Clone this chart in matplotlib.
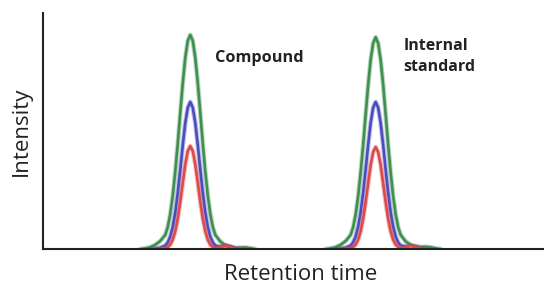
import numpy as np
import matplotlib
matplotlib.use("Agg")
from matplotlib import pyplot as plt

####################################################

# Peak data (time in arbitrary units, intensity 0-100)

compound_rt = 2.94
standard_rt = 6.64

# offsets from each peak apex
green_off = [-1.0, -0.9, -0.8, -0.7, -0.6, -0.5, -0.45, -0.4, -0.35, -0.3, -0.25, -0.2, -0.15, -0.1, -0.05,
             0.0, 0.05, 0.1, 0.15, 0.2, 0.25, 0.3, 0.35, 0.4, 0.45, 0.5, 0.6, 0.7, 0.8, 0.9, 1.0, 1.1, 1.2, 1.3]
green_compound = [0.0, 0.3, 0.8, 1.8, 3.4, 6.0, 9.3, 14.8, 22.6, 32.7, 44.6, 57.6, 70.3, 81.0, 88.2,
                  90.7, 88.2, 81.0, 70.3, 57.6, 44.6, 32.7, 22.6, 14.8, 9.3, 6.0, 3.2, 1.6, 0.8, 0.5, 0.6, 0.7, 0.4, 0.0]
green_standard = [0.0, 0.3, 0.8, 1.8, 3.4, 6.0, 9.2, 14.6, 22.3, 32.3, 44.0, 56.9, 69.5, 80.1, 87.2,
                  89.7, 87.2, 80.1, 69.5, 56.9, 44.0, 32.3, 22.3, 14.6, 9.2, 6.0, 3.2, 1.8, 1.2, 0.9, 1.0, 0.8, 0.3, 0.0]

blue_off = [-0.8, -0.7, -0.6, -0.5, -0.45, -0.4, -0.35, -0.3, -0.25, -0.2, -0.15, -0.1, -0.05,
            0.0, 0.05, 0.1, 0.15, 0.2, 0.25, 0.3, 0.35, 0.4, 0.45, 0.5, 0.6, 0.7, 0.8, 0.9, 1.0]
blue_compound = [0.0, 0.2, 0.6, 1.5, 2.8, 5.3, 9.4, 15.5, 23.8, 33.6, 44.0, 53.4, 59.9,
                 62.3, 59.9, 53.4, 44.0, 33.6, 23.8, 15.5, 9.4, 5.3, 2.8, 1.5, 1.0, 1.6, 1.2, 0.3, 0.0]
blue_standard = [0.0, 0.2, 0.6, 1.5, 2.8, 5.3, 9.4, 15.5, 23.8, 33.6, 44.0, 53.4, 59.9,
                 62.3, 59.9, 53.4, 44.0, 33.6, 23.8, 15.5, 9.4, 5.3, 2.8, 1.5, 1.1, 1.5, 1.0, 0.3, 0.0]

red_off = [-0.7, -0.6, -0.5, -0.45, -0.4, -0.35, -0.3, -0.25, -0.2, -0.15, -0.1, -0.05,
           0.0, 0.05, 0.1, 0.15, 0.2, 0.25, 0.3, 0.35, 0.4, 0.45, 0.5, 0.6, 0.7, 0.8, 0.9, 1.0]
red_compound = [0.0, 0.2, 0.5, 0.9, 1.9, 4.0, 7.5, 12.9, 20.0, 28.1, 35.9, 41.5,
                43.6, 41.5, 35.9, 28.1, 20.0, 12.9, 7.5, 4.0, 1.9, 0.9, 0.4, 0.8, 1.5, 1.0, 0.2, 0.0]
red_standard = [0.0, 0.2, 0.5, 0.9, 1.9, 4.0, 7.4, 12.8, 19.8, 27.8, 35.6, 41.1,
                43.2, 41.1, 35.6, 27.8, 19.8, 12.8, 7.4, 4.0, 1.9, 0.9, 0.4, 0.8, 1.4, 1.0, 0.2, 0.0]

peak_labels = ["Compound", "Internal\nstandard"]

####################################################

# Plot

fig = plt.figure(figsize=(5.44, 2.87), dpi=100)
ax = fig.add_axes([0.079, 0.132, 0.921, 0.823])

traces = [
    (green_off, green_compound, green_standard, "#3f8f4e"),
    (blue_off, blue_compound, blue_standard, "#4b4cc0"),
    (red_off, red_compound, red_standard, "#dc4a4a"),
]

for off, y1, y2, col in traces:
    off = np.array(off)
    for rt, y in [(compound_rt, y1), (standard_rt, y2)]:
        # soft halo then the line itself
        ax.plot(rt + off, y, color=col, lw=3.4, alpha=0.35, solid_capstyle="round")
        ax.plot(rt + off, y, color=col, lw=1.9, solid_capstyle="round")

ax.text(3.43, 81, peak_labels[0], fontsize=11.7, fontweight="bold", family="Open Sans",
        color="#222222", va="center", ha="left")
ax.text(7.19, 81.5, peak_labels[1], fontsize=11.5, fontweight="bold", family="Open Sans",
        color="#222222", va="center", ha="left", linespacing=1.45)

ax.set_xlim(0, 10)
ax.set_ylim(0, 100)
ax.set_xticks([])
ax.set_yticks([])
for side in ["top", "right"]:
    ax.spines[side].set_visible(False)
for side in ["left", "bottom"]:
    ax.spines[side].set_color("#222222")
    ax.spines[side].set_linewidth(1.5)

ax.set_xlabel("Retention time", fontsize=16, family="Open Sans", color="#222222")
ax.xaxis.set_label_coords(0.515, -0.065)
ax.set_ylabel("Intensity", fontsize=16, family="Open Sans", color="#222222", labelpad=8)

fig.savefig("out.png", dpi=100, facecolor="white")
